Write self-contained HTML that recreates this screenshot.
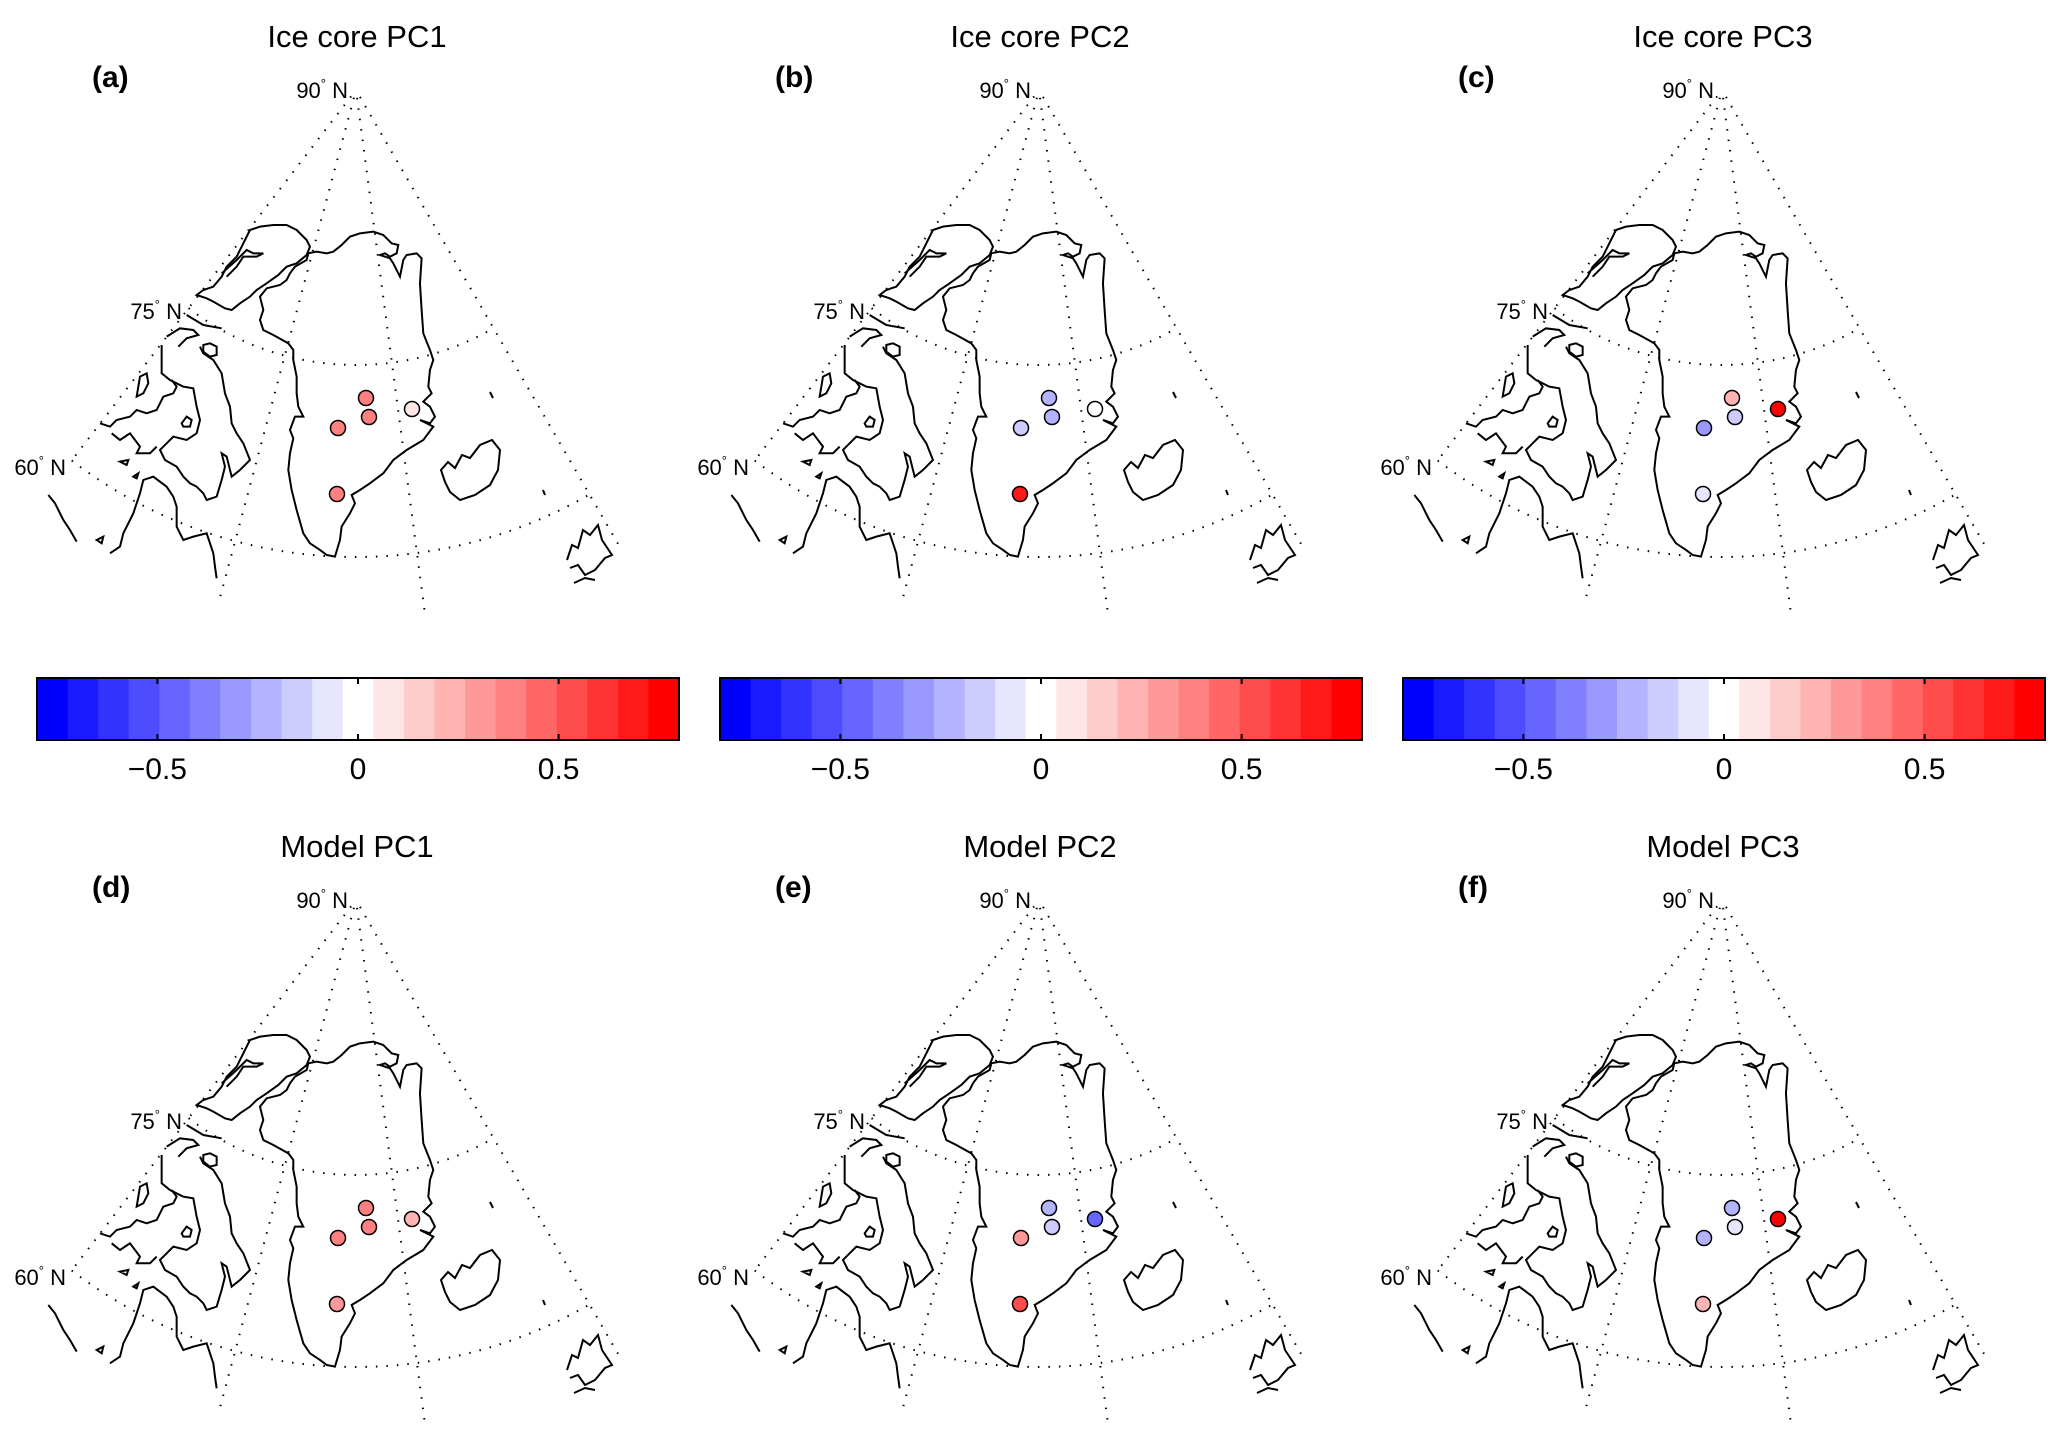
<!DOCTYPE html>
<html><head><meta charset="utf-8"><title>Ice core and model PCs</title>
<style>
html,body{margin:0;padding:0;background:#fff;}
svg{display:block;}
text{font-family:"Liberation Sans",Arial,sans-serif;fill:#000;}
</style></head>
<body>
<svg id="fig" width="2067" height="1429" viewBox="0 0 2067 1429" xmlns="http://www.w3.org/2000/svg">
<defs>
<g id="coast">
 <g transform="translate(40,220) scale(0.3333)">
  <path vector-effect="non-scaling-stroke" fill="none" stroke="#000" stroke-width="2" d="M805,100 L830,95 860,100 880,95 905,75 930,50 960,40 1000,35 1030,45 1055,70 1075,75 1070,100 1050,110 1035,100 1020,105 1050,115 1060,130 1080,170 1090,120 1100,105 1130,100 1145,115 1140,190 1145,270 1150,340 1170,390 1180,420 1170,450 1165,500 1175,520 1150,545 1170,560 1185,590 1170,610 1140,600 1180,620 1150,660 1100,690 1060,720 1030,760 990,790 960,810 935,825 945,850 930,880 905,920 900,960 885,1010 860,1005 840,990 810,970 790,940 770,870 755,810 745,750 750,700 760,655 750,630 765,590 790,590 775,560 770,520 770,470 760,420 760,390 745,370 700,345 670,330 660,300 670,270 660,230 680,205 720,195 740,180 750,160 765,140 800,120 Z"/>
  <path vector-effect="non-scaling-stroke" fill="none" stroke="#000" stroke-width="2" d="M470,225 L490,210 520,200 545,170 560,140 590,110 605,80 615,60 630,30 660,20 700,15 740,15 770,30 800,60 810,80 800,105 770,130 740,140 715,165 680,190 650,210 630,230 600,250 575,270 555,265 520,245 500,235 Z M545,160 L590,120 620,90 640,100 670,100 650,110 610,110 590,140 560,170"/>
  <path vector-effect="non-scaling-stroke" fill="none" stroke="#000" stroke-width="2" d="M440,285 L490,315 545,325"/>
  <path vector-effect="non-scaling-stroke" fill="none" stroke="#000" stroke-width="2" d="M380,350 L420,325 460,330 475,345 440,355 415,380 M490,375 L510,370 530,380 530,405 510,410 490,395 Z"/>
  <path vector-effect="non-scaling-stroke" fill="none" stroke="#000" stroke-width="2" d="M365,375 L365,460 390,480 430,500 460,505 470,560 480,600 470,640 440,660 400,650 380,670 360,690 375,720 410,740 430,770 450,790 470,800 490,820 500,840 530,830 545,780 555,740 545,700 560,710 575,770 600,750 630,720 610,670 590,640 575,610 570,560 555,520 545,460 520,420 490,400 480,380"/>
  <path vector-effect="non-scaling-stroke" fill="none" stroke="#000" stroke-width="2" d="M180,610 L210,620 230,600 270,590 290,570 320,580 350,570 370,530 400,520 410,500 395,480 M290,530 L300,470 320,460 325,490 310,520 Z M425,610 L440,590 455,600 450,620 430,620 Z M240,725 L265,720 260,735 Z M280,770 L295,760 290,775 Z M215,640 L240,660 270,640 300,680 290,700 330,700 350,680"/>
  <path vector-effect="non-scaling-stroke" fill="none" stroke="#000" stroke-width="2" d="M210,1000 L240,980 250,940 280,880 300,820 310,780 340,770 380,800 400,830 410,860 410,920 430,960 460,950 500,940 510,970 520,1000 525,1040 530,1075"/>
  <path vector-effect="non-scaling-stroke" fill="none" stroke="#000" stroke-width="2" d="M25,825 L45,850 70,900 90,930 110,965 M170,960 L190,950 185,970 Z"/>
 </g>
 <path fill="none" stroke="#000" stroke-width="2" d="M441,470 L448,462 455,468 462,455 470,458 480,445 492,440 500,450 498,470 490,485 475,495 460,500 450,492 445,482 Z"/>
 <path fill="none" stroke="#000" stroke-width="2" d="M567,560 L572,545 578,548 583,530 590,535 598,525 602,540 612,555 605,558 595,570 585,575 578,565 570,568 M574,583 L585,578 595,580 M490,392 l3,6 M543,490 l2,5"/>
</g>
</defs>
</svg>
<script>
// ---- data ----
const panelTitles = ["Ice core PC1","Ice core PC2","Ice core PC3","Model PC1","Model PC2","Model PC3"];
const panelLetters = ["(a)","(b)","(c)","(d)","(e)","(f)"];
const siteNames = ["site-north","site-central","site-west","site-east","site-south"];
const pc1Core = [0.38, 0.38, 0.38, 0.08, 0.38];
const pc2Core = [-0.23, -0.23, -0.15, 0.0, 0.69];
const pc3Core = [0.23, -0.15, -0.30, 0.76, -0.08];
const pc1Model = [0.38, 0.38, 0.38, 0.23, 0.30];
const pc2Model = [-0.23, -0.15, 0.30, -0.46, 0.53];
const pc3Model = [-0.23, -0.08, -0.23, 0.76, 0.23];
const cbarTicks = [-0.5, 0, 0.5];
const cbarTickLabels = ["\u22120.5", "0", "0.5"];
const parallelLabels = ["90", "75", "60"];

const seriesList = [pc1Core, pc2Core, pc3Core, pc1Model, pc2Model, pc3Model];
const NS = "http://www.w3.org/2000/svg";
const svg = document.getElementById('fig');
const VMIN = -0.8, VMAX = 0.8, NSEG = 21;
const sitePos = [[366,398],[369,417],[338,428],[412,409],[337,494]];
const pole = [356, 90];
const merAngles = [-37.5, -15, 7.5, 30];

function colorFor(v){
  let i = Math.floor((v - VMIN) / (VMAX - VMIN) * NSEG);
  i = Math.max(0, Math.min(NSEG-1, i));
  const k = i - 10;
  if (k === 0) return "rgb(255,255,255)";
  const c = Math.round(255 - 25.5 * Math.abs(k));
  return k < 0 ? `rgb(${c},${c},255)` : `rgb(255,${c},${c})`;
}
function el(tag, attrs, parent){
  const e = document.createElementNS(NS, tag);
  for (const k in attrs) e.setAttribute(k, attrs[k]);
  parent.appendChild(e);
  return e;
}
function pt(r, a){ const t = a*Math.PI/180; return [pole[0] + r*Math.sin(t), pole[1] + r*Math.cos(t)]; }
function degLabel(g, x, y, deg, name){
  const t = el('text', {x:x, y:y, 'font-size':22, 'text-anchor':'end'}, g);
  
  
  const s1 = document.createElementNS(NS,'tspan'); s1.textContent = deg; t.appendChild(s1);
  const s2 = document.createElementNS(NS,'tspan'); s2.setAttribute('font-size','13'); s2.setAttribute('dy','-10'); s2.textContent = '\u00B0'; t.appendChild(s2);
  const s3 = document.createElementNS(NS,'tspan'); s3.setAttribute('dy','10'); s3.textContent = ' N'; t.appendChild(s3);
}

for (let p = 0; p < 6; p++){
  const dx = (p % 3) * 683, dy = Math.floor(p / 3) * 810;
  const g = el('g', {transform:`translate(${dx},${dy})`}, svg);
  
  

  const title = el('text', {x:357, y:47, 'font-size':31, 'text-anchor':'middle'}, g);
  title.textContent = panelTitles[p];
  
  
  const lt = el('text', {x:92, y:87, 'font-size':30, 'font-weight':'bold'}, g);
  lt.textContent = panelLetters[p];
  
  

  // graticule
  const grat = el('g', {fill:'none', stroke:'#000', 'stroke-width':2, 'stroke-dasharray':'1.5 9'}, g);
  
  
  merAngles.forEach((a, i) => {
    const rEnd = (i === 0) ? 467 : 525;
    const s = pt(8, a), e = pt(rEnd, a);
    const m = el('line', {x1:s[0], y1:s[1], x2:e[0], y2:e[1]}, grat);
    
    
  });
  [275, 467].forEach(r => {
    const s = pt(r, merAngles[0]), e = pt(r, merAngles[3]);
    const arc = el('path', {d:`M${s[0]},${s[1]} A${r},${r} 0 0 0 ${e[0]},${e[1]}`}, grat);
    
    
  });
  degLabel(g, 348, 98, parallelLabels[0], 'label-90n');
  degLabel(g, 182, 319, parallelLabels[1], 'label-75n');
  degLabel(g, 66, 475, parallelLabels[2], 'label-60n');

  const coast = el('use', {href:'#coast'}, g);
  
  

  const vals = seriesList[p];
  vals.forEach((v, i) => {
    const c = el('circle', {cx:sitePos[i][0], cy:sitePos[i][1], r:7.5, fill:colorFor(v), stroke:'#000', 'stroke-width':1.5}, g);
    
    
  });

  if (p < 3){
    const cb = el('g', {}, g);
    
    
    const x0 = 37, x1 = 679, y0 = 678, y1 = 740;
    const xs = v => x0 + (v - VMIN) / (VMAX - VMIN) * (x1 - x0);
    for (let i = 0; i < NSEG; i++){
      const v0 = VMIN + i * (VMAX - VMIN) / NSEG, v1 = VMIN + (i+1) * (VMAX - VMIN) / NSEG;
      const r = el('rect', {x:xs(v0), y:y0, width:xs(v1)-xs(v0)+0.6, height:y1-y0, fill:colorFor((v0+v1)/2)}, cb);
      
      
    }
    el('rect', {x:x0, y:y0, width:x1-x0, height:y1-y0, fill:'none', stroke:'#000', 'stroke-width':2}, cb);
    cbarTicks.forEach((t, i) => {
      const x = xs(t);
      el('line', {x1:x, y1:y0, x2:x, y2:y0+6, stroke:'#000', 'stroke-width':2}, cb);
      el('line', {x1:x, y1:y1, x2:x, y2:y1-6, stroke:'#000', 'stroke-width':2}, cb);
      const tl = el('text', {x:x, y:779, 'font-size':30, 'text-anchor':'middle'}, cb);
      tl.textContent = cbarTickLabels[i];
      
      
    });
  }
}
</script>
</body></html>
